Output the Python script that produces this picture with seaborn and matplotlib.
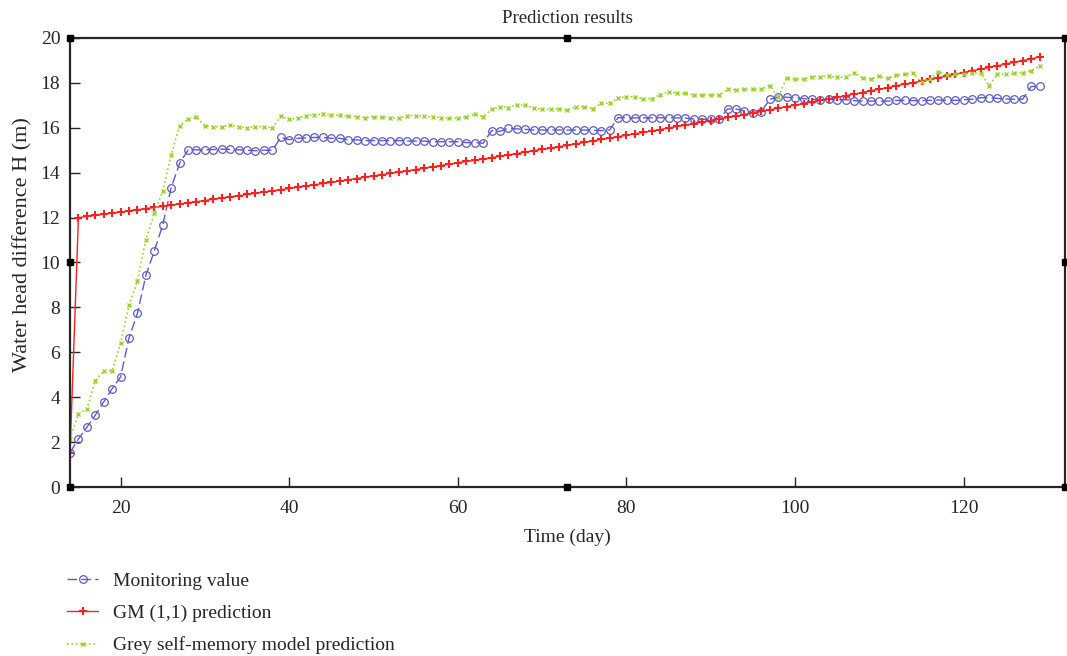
import numpy as np
import pandas as pd
import matplotlib
matplotlib.use("Agg")
import matplotlib.pyplot as plt
import seaborn as sns

# days of observation
days = list(range(14, 130))

monitoring = [
    1.53, 2.14, 2.66, 3.20, 3.79, 4.38, 4.90, 6.64, 7.74, 9.43,
    10.51, 11.67, 13.33, 14.42, 15.01, 15.02, 15.02, 15.03, 15.05, 15.04,
    15.02, 15.00, 14.98, 15.00, 15.00, 15.57, 15.47, 15.53, 15.55, 15.57,
    15.57, 15.53, 15.53, 15.46, 15.46, 15.43, 15.43, 15.43, 15.43, 15.43,
    15.41, 15.41, 15.41, 15.38, 15.38, 15.38, 15.38, 15.34, 15.34, 15.31,
    15.87, 15.84, 15.98, 15.95, 15.93, 15.90, 15.90, 15.90, 15.90, 15.90,
    15.90, 15.90, 15.89, 15.87, 15.90, 16.45, 16.45, 16.44, 16.44, 16.44,
    16.45, 16.45, 16.44, 16.43, 16.39, 16.38, 16.38, 16.38, 16.84, 16.84,
    16.75, 16.68, 16.72, 17.27, 17.36, 17.36, 17.33, 17.30, 17.27, 17.25,
    17.27, 17.25, 17.25, 17.21, 17.19, 17.19, 17.19, 17.19, 17.22, 17.22,
    17.21, 17.21, 17.22, 17.24, 17.22, 17.22, 17.25, 17.27, 17.34, 17.34,
    17.31, 17.28, 17.27, 17.27, 17.84, 17.84,
]

gm11 = [
    1.50, 12.00, 12.05, 12.10, 12.15, 12.20, 12.25, 12.30, 12.35, 12.40,
    12.45, 12.50, 12.55, 12.61, 12.66, 12.71, 12.76, 12.82, 12.87, 12.92,
    12.97, 13.03, 13.08, 13.14, 13.19, 13.24, 13.30, 13.35, 13.41, 13.46,
    13.52, 13.57, 13.63, 13.68, 13.74, 13.80, 13.86, 13.91, 13.97, 14.03,
    14.08, 14.14, 14.20, 14.26, 14.32, 14.38, 14.44, 14.50, 14.55, 14.61,
    14.67, 14.73, 14.79, 14.85, 14.92, 14.98, 15.04, 15.10, 15.16, 15.22,
    15.28, 15.35, 15.41, 15.48, 15.54, 15.60, 15.67, 15.73, 15.80, 15.86,
    15.92, 15.99, 16.06, 16.12, 16.19, 16.26, 16.32, 16.39, 16.46, 16.52,
    16.59, 16.66, 16.73, 16.80, 16.87, 16.94, 17.01, 17.08, 17.15, 17.22,
    17.29, 17.36, 17.43, 17.50, 17.57, 17.65, 17.72, 17.79, 17.87, 17.94,
    18.01, 18.08, 18.16, 18.23, 18.31, 18.39, 18.46, 18.54, 18.61, 18.69,
    18.76, 18.84, 18.92, 18.99, 19.07, 19.15,
]

self_memory = [
    2.14, 3.25, 3.47, 4.74, 5.17, 5.17, 6.40, 8.09, 9.19, 11.02,
    12.19, 13.18, 14.79, 16.09, 16.39, 16.47, 16.08, 16.05, 16.05, 16.13,
    16.05, 16.00, 16.05, 16.05, 15.98, 16.51, 16.38, 16.43, 16.54, 16.58,
    16.60, 16.57, 16.56, 16.51, 16.50, 16.45, 16.50, 16.47, 16.45, 16.42,
    16.54, 16.54, 16.51, 16.48, 16.45, 16.42, 16.42, 16.50, 16.60, 16.50,
    16.82, 16.94, 16.90, 17.03, 17.00, 16.90, 16.82, 16.82, 16.85, 16.78,
    16.94, 16.94, 16.85, 17.09, 17.09, 17.33, 17.38, 17.38, 17.30, 17.30,
    17.48, 17.61, 17.53, 17.53, 17.46, 17.46, 17.46, 17.46, 17.71, 17.69,
    17.71, 17.71, 17.71, 17.88, 17.35, 18.22, 18.17, 18.17, 18.28, 18.28,
    18.30, 18.25, 18.25, 18.46, 18.22, 18.17, 18.30, 18.20, 18.33, 18.39,
    18.42, 18.04, 18.17, 18.49, 18.36, 18.39, 18.40, 18.42, 18.46, 17.88,
    18.39, 18.39, 18.42, 18.46, 18.55, 18.75,
]

labels = ["Monitoring value", "GM (1,1) prediction", "Grey self-memory model prediction"]
xticks = [20, 40, 60, 80, 100, 120]
yticks = list(range(0, 21, 2))

sns.set_style("ticks")
plt.rcParams["font.family"] = ["Liberation Serif", "DejaVu Serif"]
plt.rcParams["xtick.direction"] = "in"
plt.rcParams["ytick.direction"] = "in"

fig = plt.figure(figsize=(10.67, 6.56), dpi=100)
ax = fig.add_axes([0.0656, 0.2576, 0.9324, 0.6845])

blue, red, green = "#5c5cc8", "#ff2020", "#99d42a"
sns.lineplot(x=days, y=monitoring, ax=ax, color=blue, linestyle=(0, (7, 3)),
             linewidth=1.0, marker="o", markersize=5.5, markerfacecolor="none",
             markeredgecolor=blue, markeredgewidth=0.9, label=labels[0])
sns.lineplot(x=days, y=gm11, ax=ax, color=red, linestyle="-",
             linewidth=1.0, marker="+", markersize=6, markeredgewidth=1.5,
             markeredgecolor=red, label=labels[1])
sns.lineplot(x=days, y=self_memory, ax=ax, color=green, linestyle=":",
             linewidth=1.2, marker="x", markersize=3.5, markeredgewidth=1.0,
             markeredgecolor=green, label=labels[2])

ax.set_xlim(14, 132)
ax.set_ylim(0, 20)
ax.set_xticks(xticks)
ax.set_yticks(yticks)
ax.tick_params(axis="both", length=7, width=1.0, labelsize=14)
ax.tick_params(axis="x", pad=9)
ax.tick_params(axis="y", pad=7)
ax.tick_params(top=False, right=False)
for s in ax.spines.values():
    s.set_linewidth(1.6)
    s.set_visible(True)

# small square marks on the frame corners / midpoints
fx = [0, 0, 0, 0.5, 0.5, 1, 1, 1]
fy = [0, 0.5, 1, 0, 1, 0, 0.5, 1]
ax.plot(fx, fy, linestyle="none", marker="s", markersize=4, color="black",
        transform=ax.transAxes, clip_on=False, zorder=5)

ax.set_title("Prediction results", fontsize=13.5, pad=11)
ax.set_xlabel("Time (day)", fontsize=14, labelpad=9)
ax.set_ylabel("Water head difference H (m)", fontsize=16)
ax.yaxis.set_label_coords(-0.038, 0.54)

ax.legend(loc="upper left", bbox_to_anchor=(0.063, 0.128), bbox_transform=fig.transFigure,
          frameon=False, fontsize=14, handlelength=1.6, handletextpad=0.75,
          labelspacing=0.75, borderpad=0, borderaxespad=0)

fig.savefig("out.png", dpi=100)
